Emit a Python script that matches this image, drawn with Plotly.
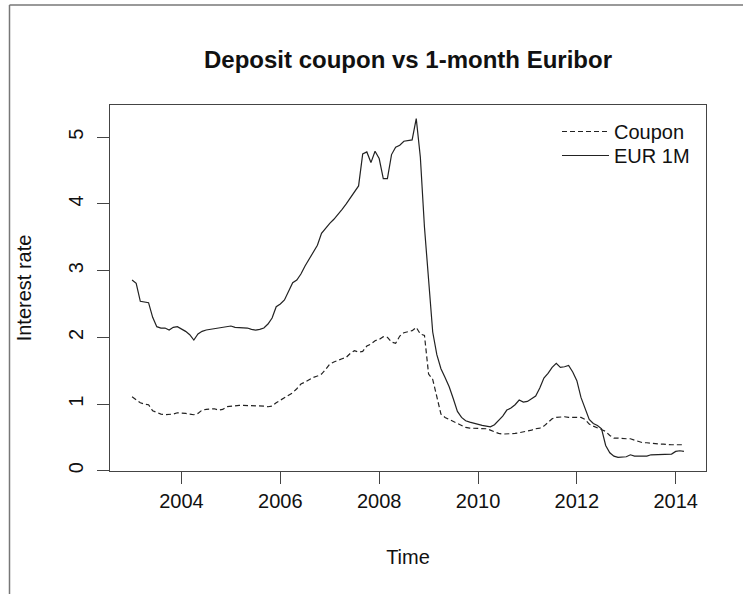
import plotly.graph_objects as go

# Monthly observations, January 2003 to March 2014
start_year = 2003
start_month = 1

eur_1m = [
    2.86, 2.81, 2.54, 2.53, 2.52, 2.30, 2.16, 2.14, 2.14, 2.11, 2.15, 2.16,
    2.13, 2.09, 2.04, 1.96, 2.05, 2.09, 2.11, 2.12, 2.13, 2.14, 2.15, 2.16,
    2.17, 2.15, 2.15, 2.14, 2.14, 2.12, 2.11, 2.12, 2.14, 2.20, 2.29, 2.46,
    2.50, 2.56, 2.70, 2.82, 2.86, 2.95, 3.07, 3.17, 3.27, 3.38, 3.56, 3.64,
    3.71, 3.77, 3.84, 3.92, 4.00, 4.09, 4.18, 4.27, 4.75, 4.78, 4.62, 4.79,
    4.68, 4.38, 4.38, 4.74, 4.85, 4.88, 4.94, 4.95, 4.96, 5.28, 4.70, 3.65,
    2.88, 2.08, 1.74, 1.53, 1.40, 1.26, 1.08, 0.89, 0.80, 0.75, 0.73, 0.71,
    0.69, 0.68, 0.67, 0.66, 0.69, 0.75, 0.82, 0.91, 0.94, 0.99, 1.06, 1.03,
    1.04, 1.08, 1.12, 1.24, 1.39, 1.46, 1.55, 1.61, 1.55, 1.56, 1.58, 1.48,
    1.35, 1.10, 0.92, 0.77, 0.71, 0.68, 0.63, 0.38, 0.27, 0.22, 0.20, 0.20,
    0.21, 0.24, 0.22, 0.22, 0.22, 0.22, 0.24, 0.24, 0.24, 0.24, 0.24, 0.25,
    0.29, 0.30, 0.29,
]

coupon = [
    1.11, 1.06, 1.02, 1.00, 0.99, 0.90, 0.87, 0.85, 0.84, 0.84, 0.85, 0.87,
    0.87, 0.86, 0.85, 0.84, 0.86, 0.91, 0.92, 0.93, 0.93, 0.91, 0.92, 0.96,
    0.97, 0.97, 0.98, 0.98, 0.98, 0.98, 0.98, 0.98, 0.97, 0.96, 0.97, 1.02,
    1.06, 1.10, 1.14, 1.17, 1.23, 1.30, 1.33, 1.37, 1.40, 1.42, 1.45, 1.52,
    1.60, 1.63, 1.66, 1.68, 1.70, 1.76, 1.80, 1.78, 1.79, 1.87, 1.90, 1.95,
    1.97, 2.01, 2.00, 1.93, 1.91, 2.02, 2.07, 2.08, 2.10, 2.15, 2.05, 2.03,
    1.45, 1.37, 1.10, 0.85, 0.80, 0.77, 0.74, 0.70, 0.67, 0.65, 0.64, 0.64,
    0.64, 0.64, 0.63, 0.61, 0.58, 0.56, 0.55, 0.55, 0.56, 0.56, 0.57, 0.58,
    0.59, 0.61, 0.63, 0.64, 0.67, 0.72, 0.78, 0.80, 0.81, 0.81, 0.80, 0.80,
    0.80, 0.80, 0.77, 0.70, 0.67, 0.64, 0.61, 0.59, 0.53, 0.49, 0.49, 0.48,
    0.48, 0.48, 0.46, 0.43, 0.42, 0.42, 0.41, 0.41, 0.40, 0.40, 0.39, 0.39,
    0.39, 0.39, 0.39,
]

x_ticks = [2004, 2006, 2008, 2010, 2012, 2014]
x_tick_labels = ["2004", "2006", "2008", "2010", "2012", "2014"]
y_ticks = [0, 1, 2, 3, 4, 5]
y_tick_labels = ["0", "1", "2", "3", "4", "5"]

title_text = "Deposit coupon vs 1-month Euribor"
x_title = "Time"
y_title = "Interest rate"

# time axis in decimal years (like an R ts object)
t = [start_year + (start_month - 1 + i) / 12 for i in range(len(eur_1m))]

def expand(lo, hi, f=0.04):
    d = (hi - lo) * f
    return [lo - d, hi + d]

xr = expand(min(t), max(t))
yr = expand(min(min(eur_1m), min(coupon)), max(max(eur_1m), max(coupon)))

FONT = "Liberation Sans, Arial, Helvetica, sans-serif"
INK = "#222222"
AX = "#444444"

fig = go.Figure()
fig.add_trace(go.Scatter(x=t, y=coupon, mode="lines", name="Coupon", legend="legend",
                         line=dict(color=INK, width=1.2, dash="5px,3px")))
fig.add_trace(go.Scatter(x=t, y=eur_1m, mode="lines", name="EUR 1M", legend="legend2",
                         line=dict(color=INK, width=1.2)))

W, H = 743, 594
ml, mr, mt, mb = 110, 37, 105, 123
pw, ph = W - ml - mr, H - mt - mb

def px_x(px):
    return (px - ml) / pw

def px_y(py):
    return 1 - (py - mt) / ph

leg_common = dict(xanchor="left", yanchor="top", bgcolor="rgba(0,0,0,0)",
                  borderwidth=0, font=dict(family=FONT, size=20, color="#111111"),
                  itemwidth=47)

fig.update_layout(
    width=W, height=H,
    margin=dict(l=ml, r=mr, t=mt, b=mb, pad=0),
    paper_bgcolor="white", plot_bgcolor="white",
    font=dict(family=FONT, size=20, color="#111111"),
    title=dict(text=title_text, x=0.5, xref="paper", xanchor="center",
               y=1 - 60 / H, yref="container", yanchor="middle",
               font=dict(family=FONT, size=24, weight="bold", color="#111111")),
    showlegend=True,
    legend=dict(x=px_x(557), y=px_y(112), **leg_common),
    legend2=dict(x=px_x(557), y=px_y(136), **leg_common),
    xaxis=dict(range=xr, tickmode="array", tickvals=x_ticks, ticktext=x_tick_labels,
               showgrid=False, zeroline=False, showline=True, mirror=True,
               linecolor=AX, linewidth=1, ticks="outside", ticklen=12,
               tickcolor=AX, tickwidth=1, tickfont=dict(size=20),
               title=dict(text=x_title, standoff=38, font=dict(size=20))),
    yaxis=dict(range=yr, tickmode="array", tickvals=y_ticks, ticktext=y_tick_labels,
               showgrid=False, zeroline=False, showline=True, mirror=True,
               linecolor=AX, linewidth=1, ticks="outside", ticklen=12,
               tickcolor=AX, tickwidth=1, tickangle=-90, tickfont=dict(size=20),
               ticklabelstandoff=6,
               title=dict(text=y_title, standoff=28, font=dict(size=20))),
    shapes=[
        dict(type="line", xref="paper", yref="paper",
             x0=px_x(9.5), x1=px_x(9.5), y0=px_y(5), y1=px_y(600),
             line=dict(color="#777777", width=1.5)),
        dict(type="line", xref="paper", yref="paper",
             x0=px_x(9.5), x1=px_x(750), y0=px_y(5), y1=px_y(5),
             line=dict(color="#777777", width=1.5)),
    ],
)

fig.write_html("out.html", config={"displayModeBar": False},
               post_script="document.body.style.margin='0px';")
